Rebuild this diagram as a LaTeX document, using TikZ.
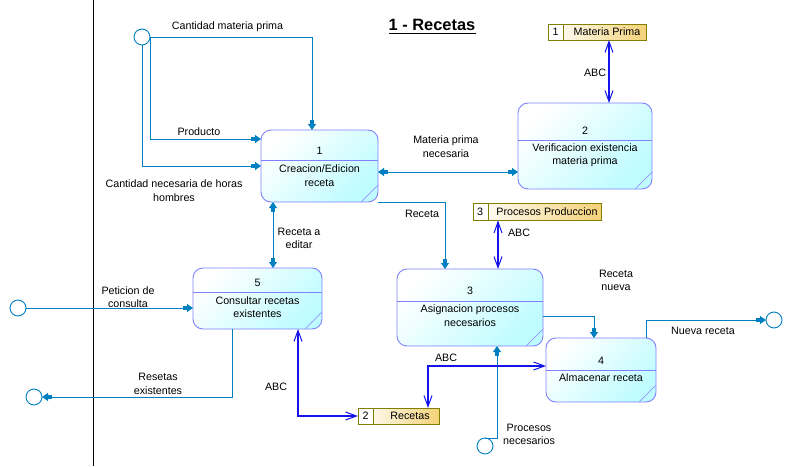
\documentclass[tikz,border=0pt]{standalone}
\usepackage{fontspec}
\setmainfont{Liberation Sans}
\usetikzlibrary{arrows.meta,calc}
\definecolor{flowc}{RGB}{0,128,192}
\definecolor{abcc}{RGB}{20,20,235}
\definecolor{procb}{RGB}{128,128,255}
\definecolor{procd}{RGB}{150,150,255}
\definecolor{procf}{RGB}{190,252,255}
\definecolor{storeb}{RGB}{128,128,0}
\definecolor{storef}{RGB}{244,210,120}
\tikzset{
  ft/.tip={Rectangle[length=4pt,width=4.5pt]Triangle[length=6pt,width=8pt]},
  ot/.tip={Straight Barb[length=11pt,width=8pt,line width=1pt]},
  flow/.style={draw=flowc, line width=0.9pt, -ft},
  flowboth/.style={draw=flowc, line width=0.9pt, ft-ft},
  abcboth/.style={draw=abcc, line width=1.2pt, ot-ot},
  proc/.style={rectangle, rounded corners=10pt, draw=procb, line width=0.9pt,
    top color=white, bottom color=procf, shading angle=45, inner sep=0pt, outer sep=0pt},
  store/.style={rectangle, draw=storeb, line width=1pt, fill=white, inner sep=0pt, outer sep=0pt,
    path picture={\shade[left color=white, right color=storef]
      ([xshift=15pt]path picture bounding box.south west) rectangle (path picture bounding box.north east);}},
  ext/.style={circle, draw=flowc, line width=0.9pt, fill=white, minimum size=16pt, inner sep=0pt, outer sep=0pt},
  lbl/.style={align=center, inner sep=0pt},
}
\begin{document}
\begin{tikzpicture}[x=1pt, y=-1pt, font=\fontsize{10.7}{13.5}\selectfont]
\useasboundingbox (0,0) rectangle (795,466);
% boundary line
\draw[line width=1pt] (93,0) -- (93,466);
% title
\node[font=\fontsize{16.4}{19}\selectfont\bfseries, inner sep=0pt] (title) at (432,25) {1 - Recetas};
\draw[line width=1.6pt] ([yshift=-2.5pt]title.south west) -- ([yshift=-2.5pt]title.south east);

% processes
\node[proc, minimum width=117pt, minimum height=72pt] (p1) at (319.5,166) {};
\node[proc, minimum width=134pt, minimum height=86pt] (p2) at (585,146) {};
\node[proc, minimum width=146pt, minimum height=77pt] (p3) at (470,307.5) {};
\node[proc, minimum width=110pt, minimum height=64pt] (p4) at (601,370) {};
\node[proc, minimum width=129pt, minimum height=61pt] (p5) at (257.5,298.5) {};
\foreach \p/\y in {p1/160, p2/140, p3/301, p4/370, p5/292}{
  \draw[procb, line width=0.9pt] (\p.west |- 0,\y) -- (\p.east |- 0,\y);
  \draw[procd, line width=0.7pt] ($(\p.south east)+(-17,0)$) -- ($(\p.south east)+(0,-17)$);
}
\node[lbl] (n1) at (319.5,151) {1};
\node[lbl] (t1) at (319.5,175.5) {Creacion/Edicion\\receta};
\node[lbl] (n2) at (585,131) {2};
\node[lbl] (t2) at (585,155) {Verificacion existencia\\materia prima};
\node[lbl] (n3) at (470,291) {3};
\node[lbl] (t3) at (470,315.5) {Asignacion procesos\\necesarios};
\node[lbl] (n4) at (601,361) {4};
\node[lbl] (t4) at (601,378) {Almacenar receta};
\node[lbl] (n5) at (257.5,283) {5};
\node[lbl] (t5) at (257.5,307) {Consultar recetas\\existentes};

% stores
\node[store, minimum width=98pt, minimum height=16pt] (s1) at (597,32) {};
\node[store, minimum width=128pt, minimum height=17pt] (s3) at (537,212) {};
\node[store, minimum width=81pt, minimum height=16pt] (s2) at (398.5,416) {};
\foreach \s in {s1,s2,s3}{
  \draw[storeb, line width=1pt] ($(\s.north west)+(15,0)$) -- ($(\s.south west)+(15,0)$);
}
\node[lbl] (sn1) at (555.5,32) {1};
\node[lbl] (st1) at (607,32) {Materia Prima};
\node[lbl] (sn3) at (480,212) {3};
\node[lbl] (st3) at (547,212) {Procesos Produccion};
\node[lbl] (sn2) at (365.5,416) {2};
\node[lbl] (st2) at (410,416) {Recetas};

% externals
\node[ext] (c1) at (142,37) {};
\node[ext] (c2) at (18,308) {};
\node[ext] (c3) at (34,397) {};
\node[ext] (c4) at (774,320) {};
\node[ext] (c5) at (485,446) {};

% flows
\draw[flow] (c1.east) -| (p1.north -| 312,0);
\draw[flow] (c1.east) |- (p1.west |- 0,139);
\draw[flow] (c1.south) |- (p1.west |- 0,166);
\draw[flowboth] (p1.east |- 0,172) -- (p2.west |- 0,172);
\draw[flow] (p1.south east) -| (p3.north -| 445,0);
\draw[flowboth] (p1.south -| 273,0) -- (p5.north -| 273,0);
\draw[flow] (c2.east) -- (c2 -| p5.west);
\draw[flow] (p5.south -| 232,0) |- (c3.east);
\draw[flow] (p3.east |- 0,316) -| (p4.north -| 594,0);
\draw[flow] (p4.north -| 646,0) |- (c4.west);
\draw[flow] (c5.north) -| (p3.south -| 497,0);
\draw[abcboth] (p5.south -| 298,0) |- (s2.west);
\draw[abcboth] (s3.south -| 498,0) -- (p3.north -| 498,0);
\draw[abcboth] (s1.south -| 609,0) -- (p2.north -| 609,0);
\draw[abcboth] (p4.west |- 0,366) -| (s2.north -| 428,0);

% flow labels
\node[lbl] (l1) at (227.5,27) {Cantidad materia prima};
\node[lbl] (l2) at (199,132) {Producto};
\node[lbl] (l3) at (174,190.5) {Cantidad necesaria de horas\\hombres};
\node[lbl] (l4) at (446,146.5) {Materia prima\\necesaria};
\node[lbl] (l5) at (422,214) {Receta};
\node[lbl] (l6) at (595,73) {ABC};
\node[lbl] (l7) at (519,233) {ABC};
\node[lbl] (l8) at (299,238.5) {Receta a\\editar};
\node[lbl] (l9) at (128,297) {Peticion de\\consulta};
\node[lbl] (l10) at (158,384) {Resetas\\existentes};
\node[lbl] (l11) at (276,387) {ABC};
\node[lbl] (l12) at (446,358) {ABC};
\node[lbl] (l13) at (616,280.5) {Receta\\nueva};
\node[lbl] (l14) at (703,331) {Nueva receta};
\node[lbl] (l15) at (529,434.5) {Procesos\\necesarios};
\end{tikzpicture}
\end{document}
